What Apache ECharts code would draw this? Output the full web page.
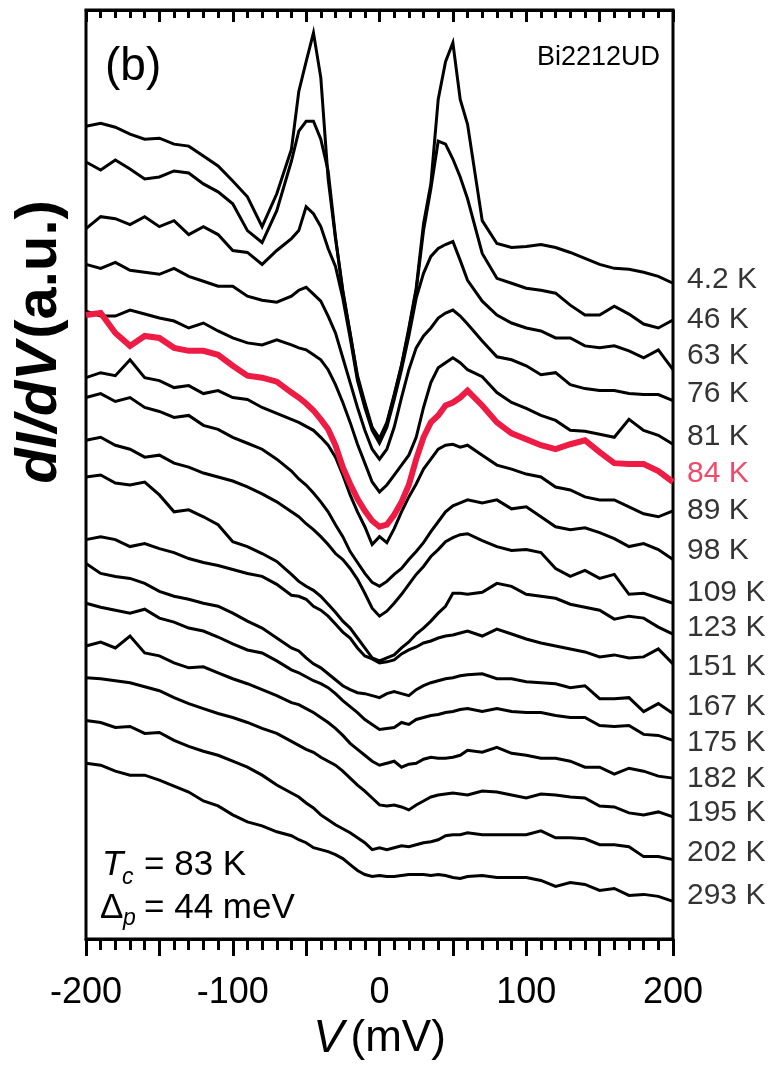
<!DOCTYPE html>
<html><head><meta charset="utf-8">
<script src="https://cdn.jsdelivr.net/npm/echarts@6/dist/echarts.min.js"></script>
<style>html,body{margin:0;padding:0;background:#fff}#c{width:775px;height:1067px}</style>
</head><body><div id="c"></div>
<script>
// Bias voltage (mV)
const voltage = [-200,-190,-180,-170,-160,-150,-140,-130,-120,-110,-100,-90,-80,-70,-60,
  -55,-50,-45,-40,-35,-30,-25,-20,-15,-10,-5,0,5,10,15,20,25,30,35,40,45,50,55,
  60,70,80,90,100,110,120,130,140,150,160,170,180,190,200];
const temps = ['4.2 K','46 K','63 K','76 K','81 K','84 K','89 K','98 K','109 K','123 K','151 K','167 K','175 K','182 K','195 K','202 K','293 K'];
// dI/dV (a.u., vertically offset as in the figure)
const t4_2 = [818,821,817,810,805,806,800,798,788,778,763,747,717,750,795,
  853,883,912,867,765,705,653,610,567,540,515,504,520,548,578,615,655,720,760,845,883,902,845,
  820,723,700,696,697,699,696,691,685,679,675,674,671,667,660];
const t46 = [782,774,784,775,765,767,773,771,760,752,740,713,701,733,783,
  813,823,823,805,773,707,651,609,565,537,514,503,518,547,577,613,653,713,755,803,800,785,767,
  745,690,665,660,655,653,650,638,628,628,637,629,619,615,623];
const t63 = [715,727,725,719,727,717,723,709,717,709,693,691,679,693,705,
  713,737,730,717,695,677,645,605,562,535,512,499,515,543,573,607,645,670,687,695,699,702,683,
  663,642,628,620,615,612,605,605,597,595,597,592,585,593,573];
const t76 = [679,675,681,673,671,669,675,667,662,657,657,647,643,641,647,
  653,656,649,642,627,610,585,560,535,512,493,483,493,515,545,573,595,607,615,625,630,633,627,
  619,602,586,583,577,568,570,558,554,552,552,549,548,548,542];
const t81 = [632,627,627,633,629,625,622,615,620,612,605,600,598,603,598,
  595,593,588,583,573,558,540,520,498,479,460,450,457,467,477,487,505,535,560,575,580,585,580,
  573,566,550,540,534,527,522,512,511,508,505,523,512,507,498];
const t84 = [628,630,610,597,607,605,595,592,592,588,577,567,565,561,550,
  545,539,532,523,513,497,475,458,443,431,421,415,417,427,440,457,483,505,520,527,537,540,545,
  552,537,520,509,503,497,493,498,502,490,479,478,478,471,460];
const t89 = [565,570,567,583,565,562,555,557,549,552,545,543,535,529,523,
  520,516,512,505,497,485,467,447,430,415,397,405,399,413,430,445,458,473,483,493,497,498,495,
  497,487,477,473,468,465,455,452,445,442,442,435,428,425,431];
const t98 = [545,549,541,545,535,531,525,527,517,513,505,499,493,483,471,
  463,457,449,440,430,417,405,390,379,368,359,355,360,367,373,382,390,399,410,420,430,436,439,
  442,439,442,433,435,425,415,412,414,409,403,395,398,392,382];
const t109 = [502,505,497,493,485,487,479,475,469,465,461,455,448,440,430,
  425,418,412,405,397,388,382,373,362,348,333,325,330,338,347,357,367,375,385,392,400,404,407,
  408,401,395,391,392,389,373,365,371,363,367,347,348,343,338];
const t123 = [465,467,459,457,460,447,430,432,425,417,400,395,388,380,367,
  360,355,351,345,337,329,320,313,303,293,283,280,283,286,293,299,307,313,320,328,335,348,348,
  347,349,358,355,347,345,343,337,334,331,322,325,323,314,307];
const t151 = [402,405,402,395,398,393,389,383,379,376,372,368,365,357,346,
  345,342,335,331,325,317,309,303,293,285,282,278,279,281,287,291,294,298,300,303,305,306,308,
  310,305,312,307,302,298,295,292,289,284,286,283,284,292,277];
const t167 = [378,368,365,363,358,350,345,342,338,335,328,320,313,303,293,
  290,283,277,273,267,261,255,251,248,247,245,243,247,249,247,245,251,255,258,260,262,263,265,
  266,267,262,262,259,258,257,253,255,242,242,243,229,237,227];
const t175 = [338,334,331,328,332,323,319,313,310,304,297,291,288,280,271,
  268,264,260,257,253,247,240,234,228,221,216,211,212,213,218,216,221,223,225,226,228,229,231,
  232,229,232,229,228,228,225,223,223,215,214,215,206,205,200];
const t182 = [295,299,293,305,288,285,278,273,274,268,262,257,251,245,238,
  236,232,228,223,218,212,205,197,191,185,179,175,177,179,173,176,177,181,183,182,182,183,185,
  190,188,193,187,185,182,182,179,173,173,166,172,169,164,162];
const t195 = [263,262,260,258,254,250,243,237,232,227,223,218,212,207,199,
  195,191,188,183,179,175,169,162,155,149,142,135,134,135,133,130,135,139,143,145,146,147,146,
  145,149,148,145,142,146,145,143,142,134,133,127,125,128,123];
const t202 = [220,218,213,214,207,208,200,194,189,185,179,173,165,155,147,
  143,137,132,125,120,115,111,107,102,97,90,92,90,92,94,93,95,97,98,100,104,105,105,
  107,105,105,105,105,109,102,102,101,95,95,93,83,83,80];
const t293 = [177,175,169,165,165,160,154,148,139,134,125,118,114,108,104,
  100,97,92,90,88,85,81,75,69,65,63,64,63,63,64,65,65,65,64,65,64,62,61,
  63,64,62,62,62,59,53,57,55,49,51,44,45,43,38];
const curves = [t4_2,t46,t63,t76,t81,t84,t89,t98,t109,t123,t151,t167,t175,t182,t195,t202,t293];
// vertical level of each temperature tag (same a.u.)
const tagLevels = [664,623,587,549,506,468,431,391,349,313,274,234,198,161,127,87,44];
const xTicks = [-200,-100,0,100,200];

const FONT = '"Liberation Sans", Arial, Helvetica, sans-serif';
const RED = '#ee1b45';
const chart = echarts.init(document.getElementById('c'), null, {renderer:'canvas'});

const series = curves.map((vals, k) => ({
  type:'line', name: temps[k], data: voltage.map((v,i)=>[v, vals[i]]),
  showSymbol:false, symbol:'none', animation:false, clip:true,
  lineStyle:{color: k===5 ? RED : '#000', width: k===5 ? 6 : 3, join:'miter'},
  z: k===5 ? 5 : 3
}));
series.push({
  type:'scatter', symbolSize:0, clip:false, animation:false, silent:true,
  data: temps.map((t,k)=>({value:[200, tagLevels[k]], name:t,
      label:{color: k===5 ? RED : '#000'}})),
  label:{show:true, position:'right', distance:14, formatter: p=>p.name,
         fontFamily:FONT, fontSize:30, color:'#000'}
});

const axisCommon = {type:'value', min:-200, max:200, interval:50};
chart.setOption({
  backgroundColor:'#fff',
  animation:false,
  grid:{left:86, right:102, top:10, bottom:122, show:true, borderColor:'#000', borderWidth:3},
  xAxis:[
    Object.assign({}, axisCommon, {
      position:'bottom',
      axisLine:{show:true, lineStyle:{color:'#000', width:3}},
      axisTick:{show:true, inside:false, length:17, lineStyle:{color:'#000', width:3}},
      minorTick:{show:true, splitNumber:5, length:11, lineStyle:{color:'#000', width:3}},
      splitLine:{show:false},
      axisLabel:{formatter: v => xTicks.includes(v) ? String(v) : '', margin:36,
                 fontFamily:FONT, fontSize:36, color:'#000'},
      name:'{i|V}  {n|(mV)}', nameLocation:'middle', nameGap:76,
      nameTextStyle:{rich:{i:{fontFamily:FONT, fontSize:46, fontStyle:'italic', color:'#000'},
                            n:{fontFamily:FONT, fontSize:44, color:'#000'}}}
    }),
    Object.assign({}, axisCommon, {
      position:'top',
      axisLine:{show:true, lineStyle:{color:'#000', width:3}},
      axisTick:{show:true, inside:true, length:12, lineStyle:{color:'#000', width:3}},
      minorTick:{show:true, splitNumber:5, length:8, lineStyle:{color:'#000', width:3}},
      splitLine:{show:false}, axisLabel:{show:false}
    })
  ],
  yAxis:{type:'value', min:0, max:935, show:false},
  series: series,
  graphic:[
    {type:'text', left:105, top:44, style:{text:'(b)', font:'46px '+FONT, fill:'#000'}},
    {type:'text', right:115, top:44, style:{text:'Bi2212UD', font:'27px '+FONT, fill:'#000'}},
    {type:'text', left:102, top:848, style:{text:'T', font:'italic 35px '+FONT, fill:'#000'}},
    {type:'text', left:122, top:866, style:{text:'c', font:'italic 23px '+FONT, fill:'#000'}},
    {type:'text', left:144, top:848, style:{text:'= 83 K', font:'35px '+FONT, fill:'#000'}},
    {type:'text', left:100, top:891, style:{text:'Δ', font:'35px '+FONT, fill:'#000'}},
    {type:'text', left:123, top:907, style:{text:'p', font:'italic 23px '+FONT, fill:'#000'}},
    {type:'text', left:144, top:891, style:{text:'= 44 meV', font:'35px '+FONT, fill:'#000'}},
    {type:'text', x:40, y:342, rotation:Math.PI/2,
     style:{text:'{i|dI/dV} {n|(a.u.)}', align:'center', verticalAlign:'middle',
       rich:{i:{fontFamily:FONT, fontSize:58, fontWeight:'bold', fontStyle:'italic', fill:'#000'},
             n:{fontFamily:FONT, fontSize:58, fontWeight:'bold', fill:'#000'}}}}
  ]
});
</script></body></html>
